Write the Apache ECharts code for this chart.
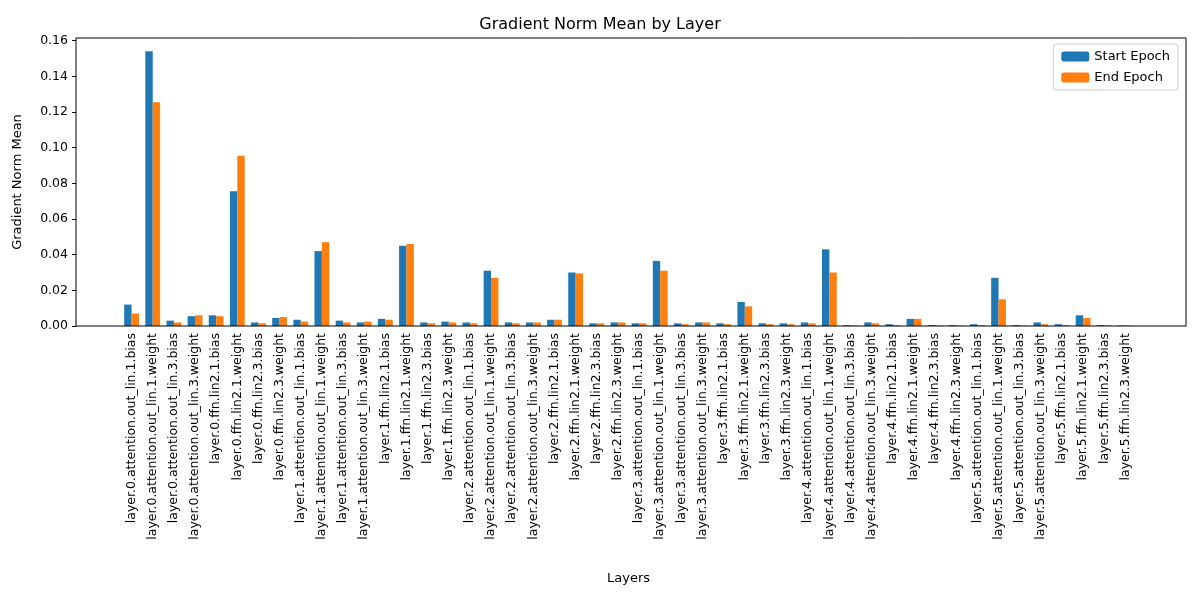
<!DOCTYPE html>
<html>
<head>
<meta charset="utf-8" />
<script src="https://cdn.jsdelivr.net/npm/echarts@6/dist/echarts.min.js"></script>
<style>body{margin:0;background:#fff}#c{width:1200px;height:600px}</style>
</head>
<body>
<div id="c"></div>
<script>
var parts = ['attention.out_lin.1.bias','attention.out_lin.1.weight','attention.out_lin.3.bias','attention.out_lin.3.weight',
             'ffn.lin2.1.bias','ffn.lin2.1.weight','ffn.lin2.3.bias','ffn.lin2.3.weight'];
var layers = [0,1,2,3,4,5];
var categories = [];
layers.forEach(function (l) { parts.forEach(function (p) { categories.push('layer.' + l + '.' + p); }); });

var startEpoch = [
  0.012, 0.154, 0.003, 0.0055, 0.006, 0.0755, 0.002, 0.0045,
  0.0035, 0.042, 0.003, 0.002, 0.004, 0.045, 0.002, 0.0025,
  0.002, 0.031, 0.002, 0.002, 0.0035, 0.030, 0.0015, 0.002,
  0.0015, 0.0365, 0.0015, 0.002, 0.0015, 0.0135, 0.0015, 0.0015,
  0.002, 0.043, 0.0005, 0.002, 0.001, 0.004, 0.0005, 0.0005,
  0.001, 0.027, 0.0005, 0.002, 0.001, 0.006, 0.0005, 0.0003
];
var endEpoch = [
  0.007, 0.1255, 0.002, 0.006, 0.0055, 0.0955, 0.0015, 0.005,
  0.0025, 0.047, 0.002, 0.0025, 0.0035, 0.046, 0.0015, 0.002,
  0.0015, 0.027, 0.0015, 0.002, 0.0035, 0.0295, 0.0015, 0.002,
  0.0015, 0.031, 0.001, 0.002, 0.001, 0.011, 0.001, 0.001,
  0.0015, 0.030, 0.0003, 0.0015, 0.0005, 0.004, 0.0003, 0.0003,
  0.0005, 0.015, 0.0003, 0.001, 0.0005, 0.0045, 0.0003, 0.0002
];

var chart = echarts.init(document.getElementById('c'));
var font = 'DejaVu Sans';
chart.setOption({
  animation: false,
  textStyle: { fontFamily: font },
  title: { text: 'Gradient Norm Mean by Layer', left: 'center', top: 12,
    textStyle: { fontFamily: font, fontSize: 16, fontWeight: 'normal', color: '#000' } },
  legend: {
    orient: 'vertical', right: 22, top: 44, padding: [6, 8, 6, 8],
    borderColor: '#ccc', borderWidth: 1, borderRadius: 3,
    itemWidth: 28, itemHeight: 10, itemGap: 8,
    textStyle: { fontFamily: font, fontSize: 13, color: '#000' },
    data: ['Start Epoch', 'End Epoch']
  },
  graphic: [{ type: 'rect', shape: { x: 76, y: 38, width: 1110, height: 288 },
    style: { fill: 'none', stroke: '#000', lineWidth: 1 }, z: 10 }],
  grid: { left: 121, right: 64, top: 38, bottom: 274 },
  xAxis: {
    type: 'category', data: categories, name: 'Layers', nameLocation: 'middle', nameGap: 246,
    nameTextStyle: { fontFamily: font, fontSize: 13, color: '#000' },
    axisLine: { show: false },
    axisTick: { alignWithLabel: true, length: 4, lineStyle: { color: '#000' } },
    axisLabel: { rotate: 90, interval: 0, fontSize: 12.5, color: '#000', margin: 7 }
  },
  yAxis: {
    type: 'value', min: 0, max: 0.1615, interval: 0.02, offset: 45,
    name: 'Gradient Norm Mean', nameLocation: 'middle', nameGap: 52,
    nameTextStyle: { fontFamily: font, fontSize: 13, color: '#000' },
    splitLine: { show: false },
    axisLine: { show: false },
    axisTick: { show: true, length: 4, lineStyle: { color: '#000' } },
    axisLabel: { showMaxLabel: false, fontSize: 12.5, color: '#000', formatter: function (v) { return v.toFixed(2); } }
  },
  series: [
    { name: 'Start Epoch', type: 'bar', data: startEpoch, barWidth: 7.4, barGap: '0%', itemStyle: { color: '#1f77b4' } },
    { name: 'End Epoch', type: 'bar', data: endEpoch, barWidth: 7.4, barGap: '0%', itemStyle: { color: '#ff7f0e' } }
  ]
});
</script>
</body>
</html>
